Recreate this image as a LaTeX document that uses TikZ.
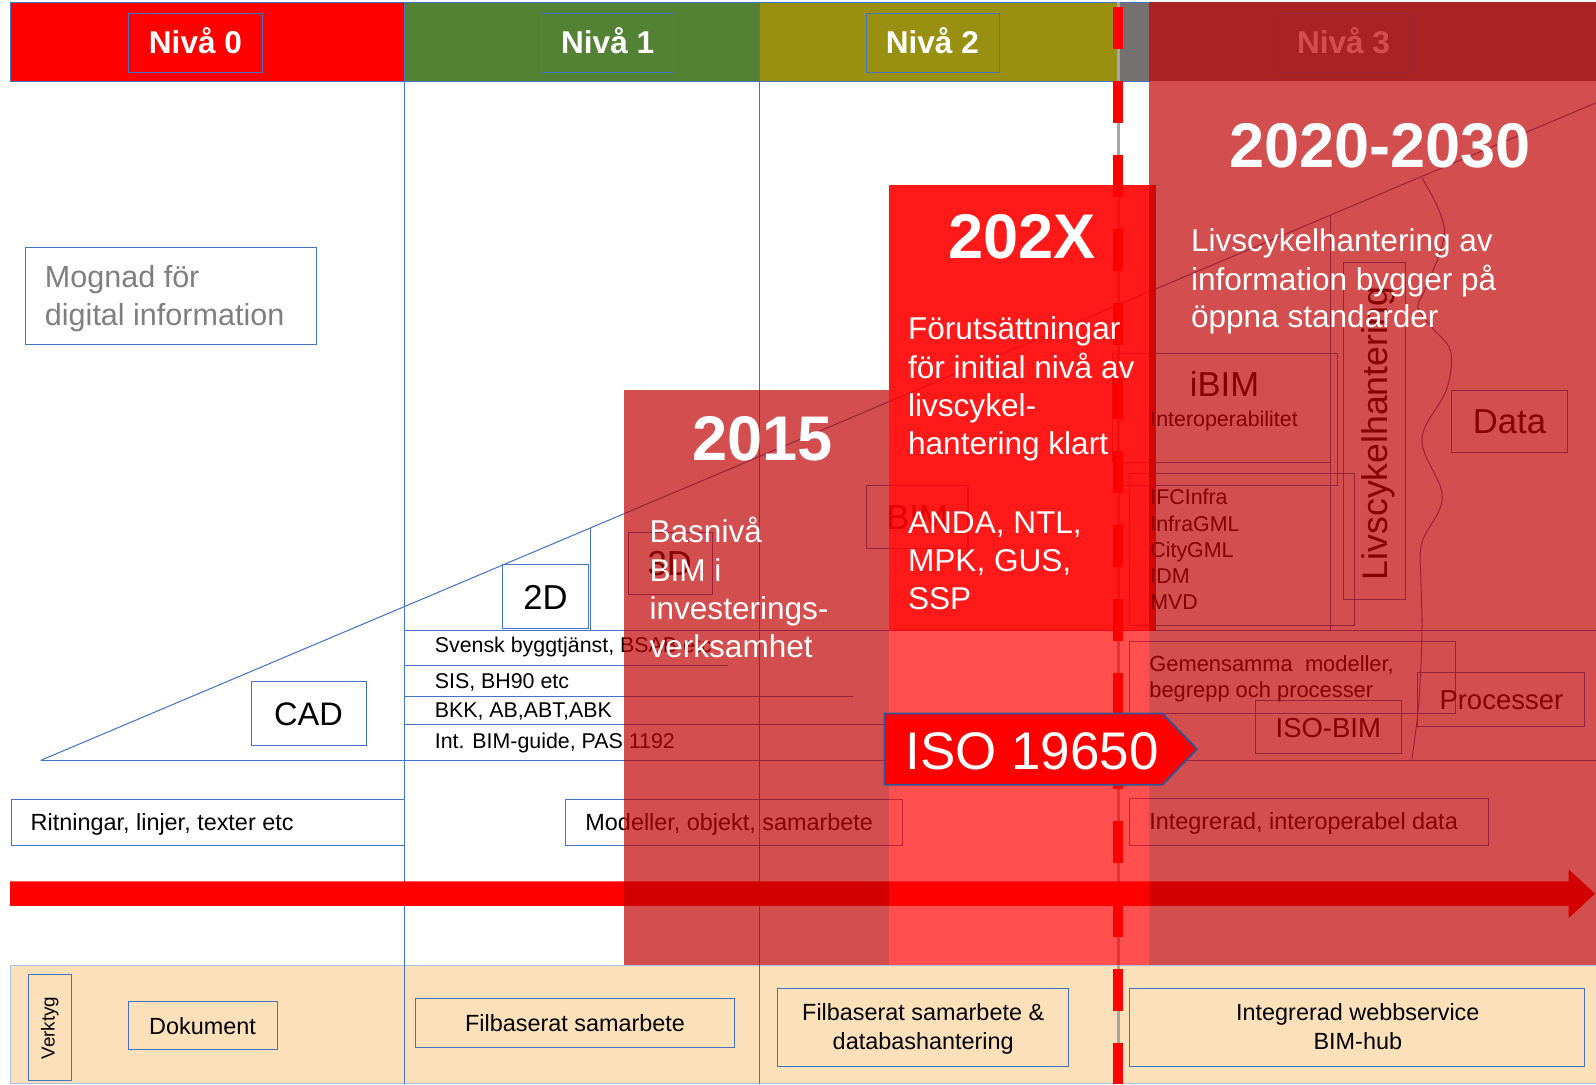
\documentclass[tikz,border=0pt]{standalone}
\usepackage{fontspec}
\setmainfont{Liberation Sans}
\newcommand\fsz[1]{\fontsize{#1}{#1}\selectfont}
\definecolor{nred}{RGB}{255,0,0}
\definecolor{ngreen}{RGB}{84,130,53}
\definecolor{nolive}{RGB}{153,143,16}
\definecolor{ngray}{RGB}{118,113,113}
\definecolor{boxblue}{RGB}{68,114,196}
\definecolor{peach}{RGB}{252,224,186}
\definecolor{ovl}{RGB}{192,0,0}
\definecolor{isoborder}{RGB}{47,85,151}
\definecolor{mgray}{RGB}{127,127,127}
\begin{document}
\begin{tikzpicture}[x=1pt,y=-1pt,
  bl/.style={draw=boxblue, line width=1pt},
  tx/.style={inner sep=0pt, anchor=base west},
  tc/.style={inner sep=0pt, anchor=base},
  ovlay/.style={fill=ovl, fill opacity=0.69},
  wt/.style={text=white}]
\useasboundingbox (0,0) rectangle (1568,1065);
\fill[white] (0,0) rectangle (1568,1065);
% header
\fill[nred] (10,2) rectangle (397,80);
\fill[ngreen] (397,2) rectangle (746,80);
\fill[nolive] (746,2) rectangle (1100,80);
\fill[ngray] (1100,2) rectangle (1568,80);
\draw[bl] (10,2) rectangle (1129,80);
% bottom band
\fill[peach] (10,949) rectangle (1568,1065);
\draw[draw=boxblue!45, line width=1pt] (10,949) rectangle (1568,1064);
% level lines
\draw[bl] (397,2) -- (397,1065);
\draw[bl] (746,2) -- (746,1065);
% gray line under dashes
\draw[draw=black!35, line width=2.5pt] (1099,2) -- (1099,1065);
% level boxes
\draw[bl] (126,13) rectangle (258,71);
\draw[bl] (532,13) rectangle (662,71);
\draw[bl] (851,13) rectangle (982,71);
\draw[bl] (1253,13) rectangle (1388,71);
\node[tc, wt, font=\fsz{31}\bfseries] (n0) at (192,53) {Nivå 0};
\node[tc, wt, font=\fsz{31}\bfseries] (n1) at (597,53) {Nivå 1};
\node[tc, wt, font=\fsz{31}\bfseries] (n2) at (916,53) {Nivå 2};
\node[tc, wt, font=\fsz{31}\bfseries] (n3) at (1320,53) {Nivå 3};
% triangle and rows
\draw[bl] (40,747) -- (1568,101);
\draw[bl] (40,747) -- (1568,747);
\draw[bl] (397,619) -- (1568,619);
\draw[bl] (397,654) -- (715,654);
\draw[bl] (397,684) -- (838,684);
\draw[bl] (397,712) -- (871,712);
\draw[bl] (580,519) -- (580,619);
\draw[bl] (1307,211) -- (1307,619);
% boxes
\draw[bl] (25,243) rectangle (311,338);
\draw[bl] (247,670) rectangle (360,732);
\draw[bl] (494,555) rectangle (578,617);
\draw[bl] (617,523) rectangle (700,584);
\draw[bl] (851,477) rectangle (951,539);
\draw[bl] (11,785) rectangle (397,831);
\draw[bl] (556,785) rectangle (887,831);
\draw[bl] (28,957) rectangle (70,1062);
\draw[bl] (126,984) rectangle (273,1031);
\draw[bl] (408,981) rectangle (722,1029);
\draw[bl] (764,971) rectangle (1050,1048);
\draw[bl] (1110,971) rectangle (1557,1048);
\draw[bl] (1093,347) rectangle (1307,454);
\draw[bl] (1098,347) rectangle (1314,477);
\draw[bl] (1110,465) rectangle (1331,615);
\draw[bl] (1320,258) rectangle (1381,589);
\draw[bl] (1426,384) rectangle (1540,445);
\draw[bl] (1110,630) rectangle (1430,701);
\draw[bl] (1233,688) rectangle (1377,740);
\draw[bl] (1393,661) rectangle (1557,714);
\draw[bl] (1110,784) rectangle (1462,831);
% wavy curve
\draw[bl] plot[smooth, tension=0.6] coordinates {(1397,175) (1419,226) (1401,282) (1393,302) (1407,322) (1425,345) (1421,383) (1397,432) (1417,488) (1397,533) (1396,570) (1397,619) (1394,690) (1387,746)};
% texts (left and middle)
\node[tx, text=mgray, font=\fsz{30}] (mg1) at (44,282) {Mognad för};
\node[tx, text=mgray, font=\fsz{30}] (mg2) at (44,320) {digital information};
\node[tc, font=\fsz{32}] (cad) at (303,713) {CAD};
\node[tc, font=\fsz{34}] (d2) at (536,599) {2D};
\node[tc, font=\fsz{34}] (d3) at (658,565) {3D};
\node[tc, font=\fsz{34}] (bim) at (901,520) {BIM};
\node[tx, font=\fsz{21}] (r1) at (427,641) {Svensk byggtjänst, BSAB etc};
\node[tx, font=\fsz{21}] (r2) at (427,676) {SIS, BH90 etc};
\node[tx, font=\fsz{21}] (r3) at (427,705) {BKK, AB,ABT,ABK};
\node[tx, font=\fsz{21}] (r4) at (427,735) {Int. BIM-guide, PAS 1192};
\node[tx, font=\fsz{23}] (rit) at (30,816) {Ritningar, linjer, texter etc};
\node[tx, font=\fsz{23}] (mod) at (575,816) {Modeller, objekt, samarbete};
\node[inner sep=0pt, rotate=90, font=\fsz{18.5}] (verk) at (49,1010) {Verktyg};
\node[tc, font=\fsz{23}] (dok) at (199,1016) {Dokument};
\node[tc, font=\fsz{23}] (fil) at (565,1013) {Filbaserat samarbete};
\node[tc, font=\fsz{23}] (fd1) at (907,1003) {Filbaserat samarbete \&};
\node[tc, font=\fsz{23}] (fd2) at (907,1031) {databashantering};
\node[tc, font=\fsz{23}] (iw1) at (1334,1003) {Integrerad webbservice};
\node[tc, font=\fsz{23}] (iw2) at (1334,1031) {BIM-hub};
% 202X box
\fill[nred, fill opacity=0.9] (873,182) rectangle (1136,620);
% texts (right)
\node[tx, font=\fsz{23}] (intd) at (1129,815) {Integrerad, interoperabel data};
\node[tc, font=\fsz{34}] (ibim) at (1203,390) {iBIM};
\node[tx, font=\fsz{21}] (iop) at (1130,419) {Interoperabilitet};
\node[tx, font=\fsz{21}] (s1) at (1130,496) {IFCInfra};
\node[tx, font=\fsz{21}] (s2) at (1130,522) {InfraGML};
\node[tx, font=\fsz{21}] (s3) at (1130,548) {CityGML};
\node[tx, font=\fsz{21}] (s4) at (1130,573) {IDM};
\node[tx, font=\fsz{21}] (s5) at (1130,599) {MVD};
\node[tc, rotate=90, font=\fsz{35}] (lch) at (1363,426) {Livscykelhantering};
\node[tc, font=\fsz{34}] (data) at (1483,426) {Data};
\node[tx, font=\fsz{21.5}] (gm1) at (1129,660) {Gemensamma\ \ modeller,};
\node[tx, font=\fsz{21.5}] (gm2) at (1129,685) {begrepp och processer};
\node[tc, font=\fsz{27}] (isobim) at (1305,725) {ISO-BIM};
\node[tc, font=\fsz{27}] (proc) at (1475,697) {Processer};
% big arrow
\fill[nred] (10,866) -- (1541,866) -- (1541,854) -- (1567,878) -- (1541,902) -- (1541,890) -- (10,890) -- cycle;
% overlays
\fill[ovlay] (613,383) rectangle (873,948);
\fill[nred, fill opacity=0.69] (873,620) rectangle (1129,948);
\fill[ovlay] (1129,2) rectangle (1568,948);
% dashed milestone line
\draw[nred, line width=10pt, dash pattern=on 41.2pt off 31.5pt] (1098,6.9) -- (1098,1065);
% ISO arrow
\draw[fill=nred, draw=isoborder, line width=1.8pt] (869,701) -- (1142,701) -- (1176,736) -- (1142,771) -- (869,771) -- cycle;
\node[tc, wt, font=\fsz{52}] (iso) at (1014,756) {ISO 19650};
% white headline texts
\node[tc, wt, font=\fsz{62}\bfseries] (y15) at (749,452) {2015};
\node[tc, wt, font=\fsz{62}\bfseries] (y2x) at (1004,254) {202X};
\node[tc, wt, font=\fsz{62}\bfseries] (y2030) at (1356,165) {2020-2030};
\node[tx, wt, font=\fsz{31}] (b1) at (638,533) {Basnivå};
\node[tx, wt, font=\fsz{31}] (b2) at (638,571) {BIM i};
\node[tx, wt, font=\fsz{31}] (b3) at (638,609) {investerings-};
\node[tx, wt, font=\fsz{31}] (b4) at (638,646) {verksamhet};
\node[tx, wt, font=\fsz{31}] (f1) at (892,334) {Förutsättningar};
\node[tx, wt, font=\fsz{31}] (f2) at (892,372) {för initial nivå av};
\node[tx, wt, font=\fsz{31}] (f3) at (892,409) {livscykel-};
\node[tx, wt, font=\fsz{31}] (f4) at (892,447) {hantering klart};
\node[tx, wt, font=\fsz{31}] (f5) at (892,524) {ANDA, NTL,};
\node[tx, wt, font=\fsz{31}] (f6) at (892,561) {MPK, GUS,};
\node[tx, wt, font=\fsz{31}] (f7) at (892,599) {SSP};
\node[tx, wt, font=\fsz{31}] (l1) at (1170,247) {Livscykelhantering av};
\node[tx, wt, font=\fsz{31}] (l2) at (1170,285) {information bygger på};
\node[tx, wt, font=\fsz{31}] (l3) at (1170,322) {öppna standarder};
\end{tikzpicture}
\end{document}
